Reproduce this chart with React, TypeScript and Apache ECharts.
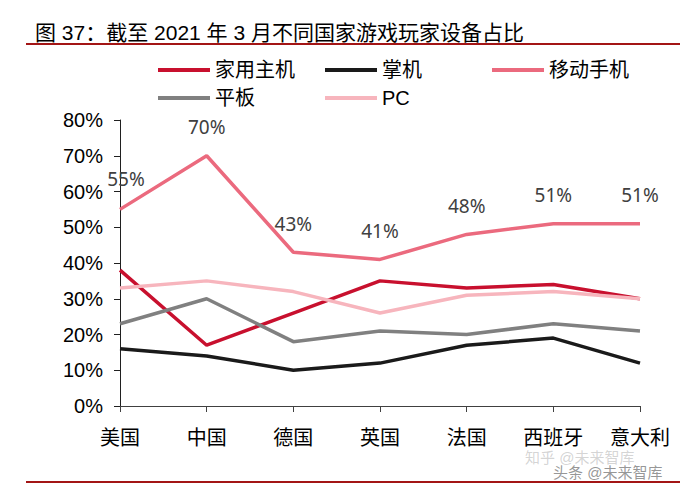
import React, { useEffect, useRef } from "react";
import * as echarts from "echarts";

const categories = ["美国", "中国", "德国", "英国", "法国", "西班牙", "意大利"];
const consoleData = [38, 17, 26, 35, 33, 34, 30];
const handheldData = [16, 14, 10, 12, 17, 19, 12];
const mobileData = [55, 70, 43, 41, 48, 51, 51];
const tabletData = [23, 30, 18, 21, 20, 23, 21];
const pcData = [33, 35, 32, 26, 31, 32, 30];
const yTicks = [0, 10, 20, 30, 40, 50, 60, 70, 80];

const FONT = "'Liberation Sans', 'Noto Sans CJK SC', sans-serif";

export default function App() {
  const ref = useRef<HTMLDivElement>(null);
  useEffect(() => {
    if (!ref.current) return;
    const chart = echarts.init(ref.current, null, { renderer: "svg" });
    const mk = (name: string, data: any[], color: string, label = false) => ({
      name,
      type: "line",
      data,
      symbol: label ? "circle" : "none",
      symbolSize: 0,
      showSymbol: label,
      lineStyle: { color, width: 3.5 },
      itemStyle: { color },
      label: label
        ? {
            show: true,
            position: "top",
            distance: 19,
            formatter: "{c}%",
            fontSize: 19,
            color: "#404040",
            fontFamily: "'Noto Sans', sans-serif",
          }
        : { show: false },
      z: label ? 5 : 3,
    });
    const legendBase = {
      itemWidth: 52,
      itemHeight: 4,
      icon: "rect",
      itemGap: 8,
      textStyle: { fontSize: 20, color: "#000", fontFamily: FONT },
      selectedMode: false,
    };
    const mobileSeriesData = mobileData.map((v, i) =>
      i === 0 ? { value: v, label: { offset: [6, -2] } } : v
    );
    chart.setOption({
      animation: false,
      backgroundColor: "#fff",
      graphic: [
        {
          type: "text",
          left: 35,
          top: 22,
          style: { text: "图 37：截至 2021 年 3 月不同国家游戏玩家设备占比", fontSize: 21, fill: "#000", fontFamily: FONT },
        },
        { type: "rect", shape: { x: 26, y: 43, width: 654, height: 2 }, style: { fill: "#A31515" } },
        { type: "rect", shape: { x: 26, y: 481, width: 654, height: 2 }, style: { fill: "#A31515" } },
        {
          type: "text",
          left: 525,
          top: 450,
          style: { text: "知乎 @未来智库", fontSize: 15, fill: "rgba(160,160,160,0.45)", fontFamily: FONT },
        },
        {
          type: "text",
          left: 553,
          top: 465,
          style: { text: "头条 @未来智库", fontSize: 15, fill: "rgba(80,80,80,0.6)", fontFamily: FONT },
        },
      ],
      legend: [
        { ...legendBase, data: ["家用主机"], left: 153, top: 55 },
        { ...legendBase, data: ["掌机"], left: 320, top: 55 },
        { ...legendBase, data: ["移动手机"], left: 487, top: 55 },
        { ...legendBase, data: ["平板"], left: 153, top: 83 },
        { ...legendBase, data: ["PC"], left: 320, top: 83 },
      ],
      grid: { left: 120, right: 45, top: 120, bottom: 79 },
      xAxis: {
        type: "category",
        data: categories,
        boundaryGap: false,
        axisLine: { lineStyle: { color: "#404040", width: 1 } },
        axisTick: { show: true, length: 6, lineStyle: { color: "#404040" } },
        axisLabel: { fontSize: 20, color: "#000", margin: 22, fontFamily: FONT, interval: 0 },
      },
      yAxis: {
        type: "value",
        min: 0,
        max: 80,
        interval: 10,
        axisLine: { show: true, lineStyle: { color: "#202020", width: 1 } },
        axisTick: { show: true, length: 6, inside: false, lineStyle: { color: "#202020" } },
        splitLine: { show: false },
        axisLabel: {
          fontSize: 20,
          color: "#000",
          margin: 17,
          fontFamily: FONT,
          formatter: (v: number) => (yTicks.includes(v) ? v + "%" : ""),
        },
      },
      series: [
        mk("家用主机", consoleData, "#C8102E"),
        mk("掌机", handheldData, "#1A1A1A"),
        mk("平板", tabletData, "#808080"),
        mk("PC", pcData, "#F7B5BD"),
        mk("移动手机", mobileSeriesData, "#EB6A7E", true),
      ],
    });
    return () => chart.dispose();
  }, []);
  return <div ref={ref} style={{ width: 685, height: 485, position: "absolute", left: 0, top: 0 }} />;
}
